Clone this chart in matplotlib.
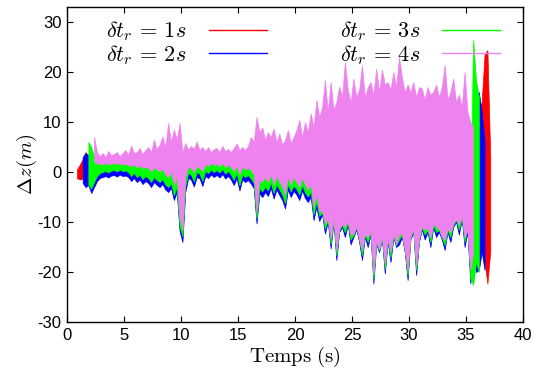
import numpy as np
import matplotlib.pyplot as plt
from matplotlib.lines import Line2D

plt.rcParams['mathtext.fontset'] = 'cm'
plt.rcParams['axes.unicode_minus'] = False

nan = np.nan
# time grid (s), one sample every 0.25 s, 0.875 .. 37.125
t = np.arange(0.875, 37.2, 0.25)

# upper / lower envelopes of each signal (m)
red_hi = [
    0.5,
    1.5, 2.6, 4.0, 3.0, 2.8, 2.2, 2.0, 1.8,
    1.2, 1.0, 1.1, 0.9, 1.0, 1.2, 0.8, 1.0,
    1.0, 0.8, 0.9, 1.1, 0.8, 0.9, 0.7, 0.8,
    0.6, 0.8, 0.5, 0.7, 0.4, 0.6, 0.3, 0.2,
    0.4, 0.0, 0.2, -1.0, -2.0, 0.5, 1.0, 0.9,
    0.6, 1.0, 0.8, 0.5, 1.1, 1.0, 1.2, 1.0,
    1.1, 0.9, 1.2, 0.8, 1.0, 0.8, 0.5, 0.9,
    0.3, 0.8, 0.6, 0.7, 0.5, 0.2, -1.0, 0.0,
    -0.5, 0.0, -0.5, 0.2, -0.6, 0.0, -0.4, -0.8,
    -1.0, 0.0, -0.5, 0.0, -0.5, -0.8, 0.0, -0.6,
    -1.0, -0.5, -2.0, -1.5, -2.0, -1.5, -3.0, -2.0,
    -3.5, -2.0, -4.0, -2.5, -2.0, -3.0, -2.0, -3.0,
    -3.0, -2.0, -3.0, -4.0, -2.5, -3.5, -2.0, -5.0,
    -3.0, -3.5, -2.5, -4.5, -3.0, -4.0, -2.5, -3.5,
    -3.0, -2.5, -3.5, -5.0, -3.0, -2.0, -4.5, -3.0,
    -2.0, -3.0, -2.0, -3.5, -2.0, -2.5, -2.0, -3.0,
    -3.5, -2.0, -3.0, -1.5, -1.0, -2.0, -0.5, -2.5,
    1.0, 2.0, 5.0, 8.0, 12.0, 14.0, 23.5, 24.4,
    3.0,
]
red_lo = [
    -1.2,
    -1.5, -1.3, -1.0, -0.8, -1.0, -0.6, -0.2, 0.0,
    0.0, 0.1, 0.0, 0.2, 0.1, 0.0, 0.2, 0.0,
    0.0, -0.2, -0.5, -0.3, -0.8, -0.5, -1.0, -0.6,
    -1.0, -1.5, -0.8, -1.2, -1.5, -1.0, -2.0, -2.5,
    -1.8, -3.5, -2.5, -8.0, -10.0, -2.0, -0.2, -0.4,
    -1.5, 0.0, -0.2, -1.5, 0.0, -0.2, 0.2, 0.0,
    0.2, -0.2, 0.2, -0.3, 0.0, -0.5, -1.2, -0.2,
    -2.0, -0.4, -0.8, -0.5, -1.0, -1.8, -7.0, -2.5,
    -3.0, -2.0, -3.0, -1.5, -3.5, -2.0, -2.5, -3.5,
    -5.0, -2.0, -3.0, -2.0, -2.5, -3.5, -2.0, -3.0,
    -4.0, -3.0, -7.0, -4.5, -7.5, -6.0, -10.0, -7.5,
    -12.0, -7.5, -14.0, -9.0, -8.0, -10.0, -8.0, -11.0,
    -10.0, -8.5, -11.0, -14.0, -10.0, -12.0, -9.5, -18.0,
    -11.0, -12.5, -10.5, -17.0, -11.0, -14.5, -10.0, -12.0,
    -11.5, -10.0, -13.0, -18.0, -10.5, -9.0, -17.0, -11.0,
    -9.0, -10.5, -9.5, -12.0, -8.5, -10.0, -9.0, -10.5,
    -12.5, -9.0, -11.0, -8.5, -7.5, -9.5, -7.0, -12.0,
    -4.0, -6.0, -8.0, -10.0, -10.0, -12.0, -18.0, -22.3,
    -16.0,
]
blue_hi = [
    nan,
    nan, 3.0, 3.8, 3.4, 3.0, 2.0, 1.6, 1.5,
    1.6, 1.8, 1.5, 1.7, 1.8, 1.6, 1.8, 1.5,
    1.5, 1.4, 1.0, 1.3, 0.8, 1.0, 0.6, 0.9,
    0.6, 0.2, 0.8, 0.4, 0.2, 0.5, -0.2, -0.5,
    0.0, -1.5, -0.5, -6.0, -8.0, 0.0, 1.0, 0.8,
    0.2, 1.2, 0.8, 0.3, 1.4, 1.2, 1.6, 1.3,
    1.5, 1.2, 1.6, 1.0, 1.3, 1.0, 0.4, 1.2,
    0.0, 1.0, 0.6, 0.8, 0.5, 0.0, -4.0, -0.8,
    -1.0, -0.5, -1.0, 0.0, -1.2, -0.4, -1.0, -1.5,
    -2.5, -0.5, -1.2, -0.6, -1.0, -1.6, -0.6, -1.2,
    -1.8, -1.2, -4.5, -2.5, -4.5, -3.5, -6.0, -4.5,
    -8.0, -4.5, -9.0, -6.0, -5.0, -6.5, -5.0, -7.5,
    -6.5, -5.0, -7.0, -9.0, -6.5, -8.0, -6.0, -12.0,
    -7.5, -8.5, -6.5, -10.5, -7.0, -9.5, -6.5, -8.0,
    -7.5, -6.5, -8.5, -11.5, -7.0, -6.0, -11.0, -7.5,
    -5.5, -7.0, -6.0, -8.0, -5.0, -6.5, -6.0, -7.0,
    -8.5, -6.0, -7.5, -5.0, -4.5, -6.5, -4.0, -8.0,
    -6.0, -12.0, 8.0, 15.0, 16.0, 12.0, 6.4, nan,
    nan,
]
blue_lo = [
    nan,
    nan, -2.2, -3.0, -2.6, -4.2, -3.0, -1.8, -1.2,
    -1.0, -0.8, -1.1, -0.7, -0.6, -0.9, -0.5, -0.8,
    -0.7, -1.0, -1.8, -1.2, -2.0, -1.5, -2.4, -1.8,
    -2.2, -3.0, -2.0, -2.6, -3.0, -2.4, -3.5, -4.0,
    -3.2, -5.6, -4.0, -11.8, -14.0, -4.0, -1.2, -1.5,
    -2.9, -1.0, -1.3, -2.8, -0.8, -1.2, -0.5, -1.0,
    -0.6, -1.1, -0.4, -1.3, -0.8, -1.5, -2.6, -1.2,
    -3.7, -1.5, -2.0, -1.6, -2.3, -3.2, -10.3, -4.3,
    -5.0, -4.0, -4.8, -3.2, -5.3, -3.5, -4.6, -5.6,
    -7.3, -3.5, -5.0, -3.8, -4.5, -5.6, -3.7, -5.2,
    -6.0, -5.0, -9.6, -7.0, -9.8, -8.5, -12.3, -10.0,
    -15.3, -10.0, -17.6, -12.0, -11.0, -13.0, -10.5, -14.5,
    -13.0, -11.5, -14.0, -17.6, -13.0, -15.0, -12.5, -22.3,
    -14.5, -16.0, -13.5, -20.3, -14.0, -18.0, -13.0, -15.0,
    -14.5, -13.0, -16.0, -21.6, -13.5, -12.0, -20.6, -14.0,
    -11.5, -13.5, -12.0, -15.0, -11.0, -13.0, -12.0, -13.5,
    -15.6, -12.0, -14.0, -11.0, -10.0, -12.5, -9.5, -15.0,
    -12.0, -22.3, -17.0, -20.0, -19.6, -16.0, -19.6, nan,
    nan,
]
green_hi = [
    nan,
    nan, nan, nan, 6.0, 5.0, 3.0, 2.6, 2.4,
    2.4, 2.6, 2.3, 2.5, 2.6, 2.4, 2.6, 2.3,
    2.4, 2.2, 2.0, 2.3, 2.0, 2.2, 1.8, 2.0,
    1.8, 1.5, 1.9, 1.6, 1.5, 1.8, 1.2, 1.0,
    1.2, 0.5, 1.0, 0.0, -2.0, 1.2, 2.2, 2.0,
    1.5, 2.4, 2.0, 1.6, 2.5, 2.3, 2.7, 2.4,
    2.6, 2.2, 2.7, 2.1, 2.4, 2.0, 1.5, 2.2,
    1.2, 2.0, 1.8, 1.9, 1.5, 1.0, 0.0, 1.0,
    0.5, 1.0, 0.5, 1.2, 0.4, 1.0, 0.5, 0.2,
    0.0, 1.0, 0.5, 1.0, 0.5, 0.2, 1.0, 0.5,
    0.0, 0.5, -2.0, 0.0, -2.0, -1.0, -3.0, -2.0,
    -4.0, -2.0, -5.0, -3.0, -2.5, -3.5, -2.0, -4.0,
    -3.0, -2.0, -3.5, -5.0, -3.0, -4.0, -2.5, -6.0,
    -4.0, -4.5, -3.0, -5.0, -3.5, -5.0, -3.0, -4.0,
    -4.0, -3.0, -4.5, -6.0, -3.5, -2.5, -5.5, -3.5,
    -2.5, -3.5, -2.5, -4.0, -2.0, -3.0, -2.5, -3.0,
    -4.0, -2.5, -3.5, -2.0, -1.5, -2.5, -1.0, -3.0,
    -2.0, -5.0, 26.4, 18.4, 15.0, nan, nan, nan,
    nan,
]
green_lo = [
    nan,
    nan, nan, nan, -2.5, -3.3, -2.0, -0.8, -0.2,
    0.0, 0.2, -0.1, 0.3, 0.4, 0.1, 0.5, 0.2,
    0.3, 0.0, -0.8, -0.2, -1.0, -0.5, -1.4, -0.8,
    -1.2, -2.0, -1.0, -1.6, -2.0, -1.4, -2.5, -3.0,
    -2.2, -4.6, -3.0, -10.8, -12.8, -2.8, -0.2, -0.5,
    -1.9, 0.0, -0.3, -1.8, 0.2, -0.2, 0.5, 0.0,
    0.4, -0.1, 0.6, -0.3, 0.2, -0.5, -1.6, -0.2,
    -2.7, -0.5, -1.0, -0.6, -1.3, -2.2, -9.2, -3.3,
    -3.9, -2.9, -3.7, -2.1, -4.2, -2.4, -3.5, -4.5,
    -6.2, -2.4, -3.9, -2.7, -3.4, -4.5, -2.6, -4.1,
    -4.9, -3.9, -8.5, -5.9, -8.8, -8.1, -11.3, -9.6,
    -14.3, -9.6, -16.6, -11.6, -10.6, -12.0, -10.1, -13.5,
    -12.6, -11.1, -13.6, -16.6, -12.6, -14.0, -12.1, -21.3,
    -14.1, -15.6, -13.1, -19.3, -13.6, -17.0, -12.6, -14.6,
    -13.5, -12.6, -15.6, -20.6, -13.1, -11.6, -19.6, -13.6,
    -11.1, -12.5, -11.6, -14.0, -10.6, -12.0, -11.6, -13.1,
    -14.6, -11.6, -13.0, -10.6, -9.6, -11.5, -9.1, -14.0,
    -11.0, -21.3, -22.6, -18.0, -20.0, nan, nan, nan,
    nan,
]
pink_hi = [
    nan,
    nan, nan, nan, nan, nan, 7.0, 4.0, 3.2,
    3.8, 3.0, 4.2, 3.4, 3.6, 4.0, 3.2, 3.8,
    4.4, 3.5, 5.3, 3.8, 4.0, 4.8, 3.6, 4.4,
    5.0, 4.0, 6.5, 4.6, 5.5, 7.1, 5.0, 9.8,
    6.0, 8.5, 6.5, 9.8, 4.0, 5.8, 4.5, 5.2,
    4.6, 6.1, 4.4, 5.0, 4.2, 5.0, 4.0, 4.6,
    4.8, 4.0, 5.2, 4.2, 4.6, 4.0, 4.8, 5.7,
    4.4, 5.0, 4.4, 5.2, 7.0, 6.0, 11.0, 8.0,
    8.9, 6.5, 8.0, 7.0, 8.7, 6.0, 7.7, 5.5,
    6.4, 8.4, 5.8, 7.0, 8.4, 10.4, 7.0, 10.0,
    8.0, 11.7, 9.0, 14.4, 11.0, 13.0, 18.4, 12.0,
    18.0, 12.5, 14.0, 17.1, 15.0, 22.0, 16.5, 14.0,
    18.7, 15.0, 16.5, 21.3, 15.0, 17.0, 18.0, 15.5,
    20.7, 16.0, 20.5, 17.5, 18.0, 16.5, 20.0, 17.0,
    23.0, 19.0, 16.0, 17.5, 16.0, 18.0, 15.0, 17.0,
    16.7, 14.5, 17.0, 15.5, 16.0, 17.5, 15.0, 17.0,
    21.4, 14.5, 16.0, 18.7, 14.0, 15.5, 13.0, 20.0,
    12.0, 10.0, 9.0, nan, nan, nan, nan, nan,
    nan,
]
pink_lo = [
    nan,
    nan, nan, nan, nan, nan, 2.0, 1.8, 1.6,
    1.6, 1.8, 1.5, 1.7, 1.8, 1.6, 1.8, 1.5,
    1.6, 1.4, 1.2, 1.5, 1.0, 1.3, 0.8, 1.0,
    0.8, 0.2, 0.9, 0.5, 0.2, 0.6, -0.5, -1.0,
    0.0, -2.5, -1.0, -9.0, -11.6, -1.0, 1.0, 0.8,
    0.0, 1.2, 0.8, 0.2, 1.5, 1.2, 1.8, 1.4,
    1.6, 1.2, 1.8, 1.0, 1.4, 1.0, 0.2, 1.2,
    -0.5, 1.0, 0.6, 0.8, 0.4, -0.5, -8.0, -1.5,
    -2.0, -1.0, -2.0, -0.5, -2.5, -0.8, -2.0, -3.0,
    -4.5, -1.0, -2.5, -1.0, -2.0, -3.0, -1.2, -2.5,
    -3.5, -2.5, -7.0, -4.5, -7.8, -7.9, -10.3, -9.4,
    -13.3, -9.4, -15.6, -11.4, -10.4, -11.0, -9.9, -12.5,
    -12.4, -10.9, -13.4, -15.6, -12.4, -13.0, -11.9, -20.3,
    -13.9, -15.4, -12.9, -18.3, -13.4, -16.0, -12.4, -14.4,
    -12.5, -12.4, -15.4, -19.6, -12.9, -11.4, -18.6, -13.4,
    -10.9, -11.5, -11.4, -13.0, -10.4, -11.0, -11.4, -12.9,
    -13.6, -11.4, -12.0, -10.4, -9.4, -10.5, -8.9, -13.0,
    -11.6, -19.5, -16.0, nan, nan, nan, nan, nan,
    nan,
]

labels = [r'$\delta t_r\,=\,1s$', r'$\delta t_r\,=\,2s$',
          r'$\delta t_r\,=\,3s$', r'$\delta t_r\,=\,4s$']
colors = ['#ff0000', '#0000ff', '#00ff00', '#ee82ee']
series = [(red_hi, red_lo), (blue_hi, blue_lo),
          (green_hi, green_lo), (pink_hi, pink_lo)]

fig, ax = plt.subplots(figsize=(5.42, 3.72), dpi=100)
fig.subplots_adjust(left=0.1236, right=0.965, top=0.981, bottom=0.1344)

handles = []
for (hi, lo), c, lab in zip(series, colors, labels):
    hi = np.array(hi, dtype=float)
    lo = np.array(lo, dtype=float)
    assert len(hi) == len(t) and len(lo) == len(t)
    ax.fill_between(t, lo, hi, facecolor=c, edgecolor=c, lw=0.5)
    handles.append(Line2D([], [], color=c, lw=1.0, label=lab))

ax.set_xlim(0, 40)
ax.set_ylim(-30, 33)
ax.set_xticks(np.arange(0, 41, 5))
ax.set_yticks(np.arange(-30, 31, 10))
ax.tick_params(direction='in', top=True, right=True, length=4, width=0.8,
               labelsize=12, pad=4)
for lbl in ax.get_xticklabels() + ax.get_yticklabels():
    lbl.set_fontfamily('Liberation Sans')
for sp in ax.spines.values():
    sp.set_linewidth(1.0)

ax.set_xlabel(r'$\mathrm{Temps\ (s)}$', fontsize=15, labelpad=2)
ax.set_ylabel(r'$\Delta z(m)$', fontsize=15)
ax.yaxis.set_label_coords(-0.062, 0.5)

ax.legend(handles=handles, ncol=2, loc='upper center',
          bbox_to_anchor=(0.518, 1.01), frameon=False, markerfirst=False,
          fontsize=16, handlelength=2.6, handletextpad=1.0,
          columnspacing=3.3, labelspacing=0.0, borderpad=0.2)

fig.savefig('out.png', dpi=100)
